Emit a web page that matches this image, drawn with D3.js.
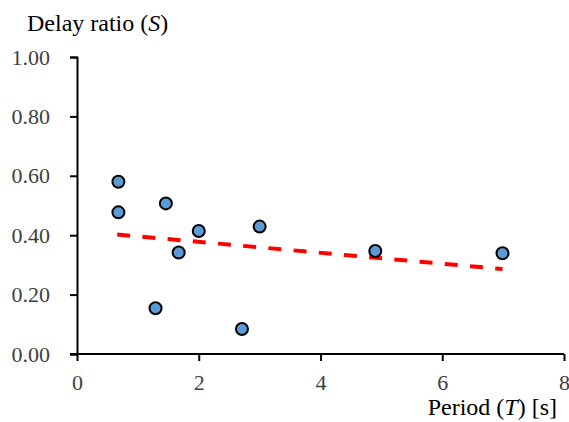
<!DOCTYPE html>
<html>
<head>
<meta charset="utf-8">
<script src="https://cdn.jsdelivr.net/npm/d3@7"></script>
<style>
  body { margin: 0; background: #fff; }
</style>
</head>
<body>
<div id="chart"></div>
<script>
// data
var periods = [0.68, 0.68, 1.46, 2.00, 1.67, 1.29, 2.71, 3.00, 4.90, 6.99];
var ratios  = [0.580, 0.477, 0.507, 0.414, 0.342, 0.154, 0.084, 0.429, 0.347, 0.339];
// trend line end points
var trendX = [0.66, 6.99];
var trendY = [0.402, 0.286];
var xTicks = [0, 2, 4, 6, 8];
var yTicks = [0, 0.2, 0.4, 0.6, 0.8, 1.0];

var serif = "'Liberation Serif', 'Times New Roman', 'DejaVu Serif', serif";

var W = 569, H = 422;
var margin = {top: 57, right: 5, bottom: 68, left: 77};

var root = d3.select("#chart")
  .append("svg")
    .attr("width", W)
    .attr("height", H)
    .attr("font-family", serif);

var svg = root.append("g")
    .attr("transform", "translate(" + margin.left + "," + margin.top + ")");

var x = d3.scaleLinear().domain([0, 8]).range([0, 487]);
var y = d3.scaleLinear().domain([0, 1]).range([297, 0]);

// X axis
var xAxis = svg.append("g")
  .attr("transform", "translate(0," + y(0) + ")")
  .call(d3.axisBottom(x).tickValues(xTicks).tickFormat(d3.format("d")).tickSizeOuter(0).tickSize(7).tickPadding(13));

// Y axis
var yAxis = svg.append("g")
  .call(d3.axisLeft(y).tickValues(yTicks).tickFormat(d3.format(".2f")).tickSizeOuter(0).tickSize(7).tickPadding(20));

[xAxis, yAxis].forEach(function(a) {
  a.attr("font-family", serif).attr("font-size", 22);
  a.select(".domain").attr("stroke", "#000").attr("stroke-width", 2);
  a.selectAll(".tick line").attr("stroke", "#000").attr("stroke-width", 2);
  a.selectAll(".tick text").attr("fill", "#404040").style("font-family", serif).style("font-size", "22px");
});
// x axis line starts slightly left of y axis
xAxis.select(".domain").attr("d", "M-7,0H" + x(8));

// trend line
svg.append("path")
  .datum(trendX.map(function(v, i) { return {t: v, s: trendY[i]}; }))
  .attr("d", d3.line()
    .x(function(d) { return x(d.t); })
    .y(function(d) { return y(d.s); }))
  .attr("stroke", "#ff0000")
  .attr("stroke-width", 4)
  .attr("stroke-dasharray", "13,12.3")
  .attr("fill", "none");

// points
svg.selectAll("circle")
  .data(periods.map(function(v, i) { return {t: v, s: ratios[i]}; }))
  .enter()
  .append("circle")
    .attr("cx", function(d) { return x(d.t); })
    .attr("cy", function(d) { return y(d.s); })
    .attr("r", 6)
    .attr("fill", "#5b9bd5")
    .attr("stroke", "#000")
    .attr("stroke-width", 2);

// axis titles
var title = root.append("text")
  .attr("x", 27).attr("y", 31)
  .style("font-family", serif)
  .style("font-size", "24px").attr("fill", "#000");
title.append("tspan").text("Delay ratio (");
title.append("tspan").style("font-style", "italic").text("S");
title.append("tspan").text(")");

var xlab = root.append("text")
  .attr("x", 557).attr("y", 415)
  .attr("text-anchor", "end")
  .style("font-family", serif)
  .style("font-size", "24px").attr("fill", "#000");
xlab.append("tspan").text("Period (");
xlab.append("tspan").style("font-style", "italic").text("T");
xlab.append("tspan").text(") [s]");
</script>
</body>
</html>
